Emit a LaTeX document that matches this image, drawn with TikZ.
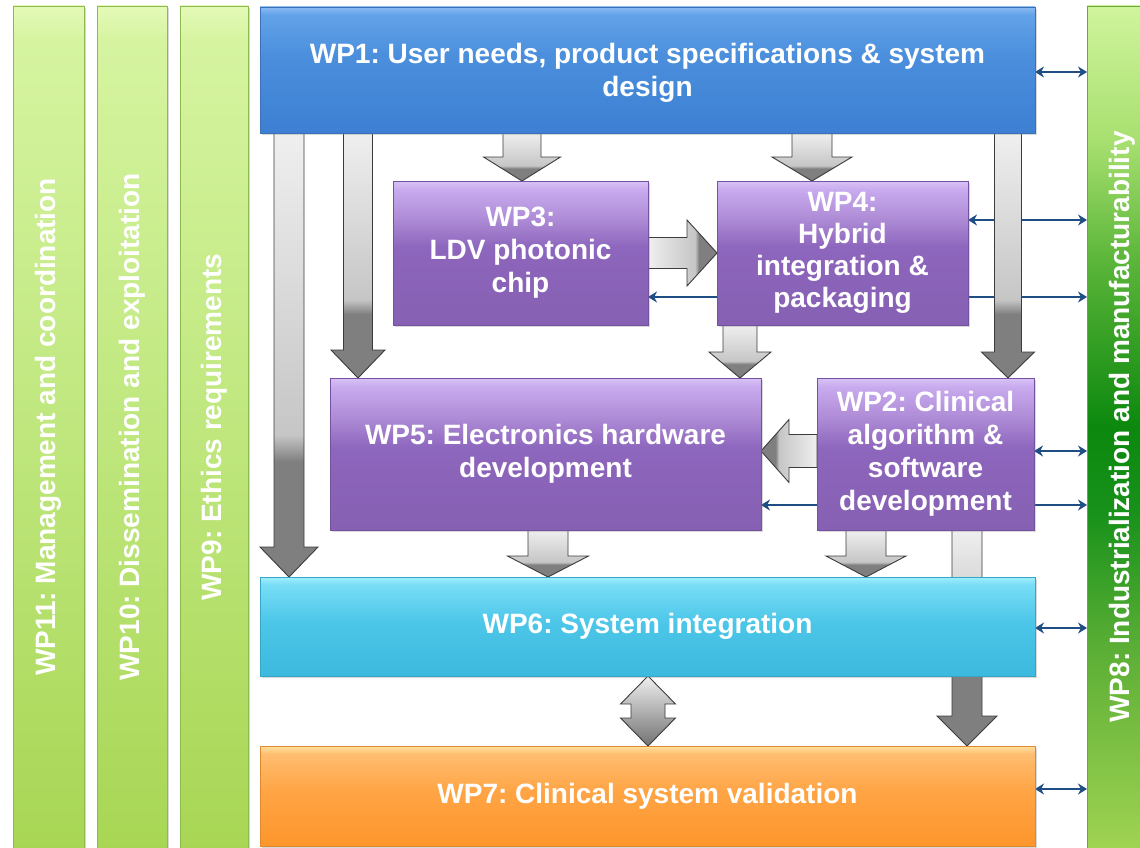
\documentclass[tikz,border=0pt]{standalone}
\usepackage{fontspec}
\usepackage{graphicx}
\setmainfont{Liberation Sans}
\frenchspacing
\usetikzlibrary{calc,arrows.meta,shadows}

\definecolor{arrowblue}{HTML}{1F4E84}
\definecolor{pu0}{HTML}{D8C2F6}\definecolor{pu1}{HTML}{C8AAEE}\definecolor{pu2}{HTML}{AE8CD6}
\definecolor{pu3}{HTML}{8D66BD}\definecolor{pu4}{HTML}{8660B2}
\definecolor{bl0}{HTML}{8CBCF2}\definecolor{bl1}{HTML}{62A2E8}\definecolor{bl2}{HTML}{4A8EDC}\definecolor{bl3}{HTML}{3D80D3}
\definecolor{cy0}{HTML}{A0EEFE}\definecolor{cy1}{HTML}{78DDF6}\definecolor{cy2}{HTML}{4CC6E8}\definecolor{cy3}{HTML}{3CB9DE}
\definecolor{or0}{HTML}{FFE0A0}\definecolor{or1}{HTML}{FFBD70}\definecolor{or2}{HTML}{FFA444}\definecolor{or3}{HTML}{FD962C}
\definecolor{gb0}{HTML}{E4FAB8}\definecolor{gb1}{HTML}{D6F4A0}\definecolor{gb2}{HTML}{BFE77E}\definecolor{gb3}{HTML}{A8D654}
\definecolor{we0}{HTML}{D0F49C}\definecolor{we1}{HTML}{A8E070}\definecolor{we2}{HTML}{5CB63A}\definecolor{we3}{HTML}{0C880E}
\definecolor{we4}{HTML}{17911A}\definecolor{we5}{HTML}{5AAE35}\definecolor{we6}{HTML}{A0D352}
\definecolor{gD}{HTML}{7F7F7F}\definecolor{gM}{HTML}{C6C6C6}\definecolor{gL}{HTML}{EFEFEF}
\definecolor{purpedge}{HTML}{7452A0}\definecolor{blueedge}{HTML}{3A72BA}
\definecolor{cyanedge}{HTML}{35A5C8}\definecolor{orangeedge}{HTML}{DD8A2E}
\definecolor{greenedge}{HTML}{8DB94E}\definecolor{wpeightedge}{HTML}{6AA83A}
\definecolor{arrowedge}{HTML}{3C3C3C}

\pgfdeclareverticalshading{purpshade}{100bp}{color(0bp)=(pu4); color(25bp)=(pu4); color(52bp)=(pu3); color(62bp)=(pu2); color(72bp)=(pu1); color(75bp)=(pu0); color(100bp)=(pu0)}
\pgfdeclareverticalshading{blushade}{100bp}{color(0bp)=(bl3); color(25bp)=(bl3); color(55bp)=(bl2); color(72bp)=(bl1); color(75bp)=(bl0); color(100bp)=(bl0)}
\pgfdeclareverticalshading{cyanshade}{100bp}{color(0bp)=(cy3); color(25bp)=(cy3); color(52bp)=(cy2); color(71bp)=(cy1); color(75bp)=(cy0); color(100bp)=(cy0)}
\pgfdeclareverticalshading{orangeshade}{100bp}{color(0bp)=(or3); color(25bp)=(or3); color(52bp)=(or2); color(71bp)=(or1); color(75bp)=(or0); color(100bp)=(or0)}
\pgfdeclareverticalshading{greenshade}{100bp}{color(0bp)=(gb3); color(25bp)=(gb3); color(50bp)=(gb2); color(73bp)=(gb1); color(75bp)=(gb0); color(100bp)=(gb0)}
\pgfdeclareverticalshading{wpeightshade}{100bp}{color(0bp)=(we6); color(25bp)=(we6); color(37bp)=(we5); color(45bp)=(we4); color(50bp)=(we3); color(60bp)=(we2); color(67bp)=(we1); color(75bp)=(we0); color(100bp)=(we0)}
\pgfdeclareverticalshading{grayarrow}{100bp}{color(0bp)=(gD); color(38bp)=(gD); color(41bp)=(gM); color(75bp)=(gL); color(100bp)=(gL)}
\pgfdeclareverticalshading{grayarrowlate}{100bp}{color(0bp)=(gD); color(49bp)=(gD); color(53bp)=(gM); color(75bp)=(gL); color(100bp)=(gL)}

\pgfdeclarelayer{lines}
\pgfdeclarelayer{arrows}
\pgfsetlayers{lines,arrows,main}

\newcommand{\wpfont}{\fontsize{28}{33}\selectfont\bfseries}

\tikzset{
  wpbox/.style={rectangle, inner sep=0pt, outer sep=0pt, align=center, text=white,
    font=\wpfont, line width=0.8pt,
    drop shadow={opacity=0.3, shadow xshift=1.5pt, shadow yshift=-2pt}},
  purplebox/.style={wpbox, shade, shading=purpshade, draw=purpedge},
  bluebox/.style={wpbox, shade, shading=blushade, draw=blueedge},
  cyanbox/.style={wpbox, shade, shading=cyanshade, draw=cyanedge},
  orangebox/.style={wpbox, shade, shading=orangeshade, draw=orangeedge},
  greenbar/.style={wpbox, shade, shading=greenshade, draw=greenedge, minimum width=70, minimum height=842},
  wpeightbar/.style={wpbox, shade, shading=wpeightshade, draw=wpeightedge, minimum width=70, minimum height=842},
  blockarrow/.style={shade, draw=arrowedge, line width=0.9pt, line join=miter},
  conn/.style={draw=arrowblue, line width=2.4pt},
  bi/.style={conn, {Stealth[length=9pt,width=11pt]}-{Stealth[length=9pt,width=11pt]}},
  one/.style={conn, -{Stealth[length=9pt,width=11pt]}}
}

% down block arrow: #1 x(px) #2 from #3 to #4 shaft half width #5 head half width #6 head length #7 shading
\newcommand{\blkdown}[7]{%
  \path[blockarrow, shading=#7] let \p1=(#2), \p2=(#3) in
    (#1pt-#4pt,\y1) -- (#1pt+#4pt,\y1) -- (#1pt+#4pt,\y2+#6pt) -- (#1pt+#5pt,\y2+#6pt)
    -- (#1pt,\y2) -- (#1pt-#5pt,\y2+#6pt) -- (#1pt-#4pt,\y2+#6pt) -- cycle;}
% right block arrow: #1 y(px)
\newcommand{\blkright}[6]{%
  \path[blockarrow, shading=grayarrow, shading angle=90] let \p1=(#2), \p2=(#3) in
    (\x1,-#1pt+#4pt) -- (\x2-#6pt,-#1pt+#4pt) -- (\x2-#6pt,-#1pt+#5pt) -- (\x2,-#1pt)
    -- (\x2-#6pt,-#1pt-#5pt) -- (\x2-#6pt,-#1pt-#4pt) -- (\x1,-#1pt-#4pt) -- cycle;}
% left block arrow
\newcommand{\blkleft}[6]{%
  \path[blockarrow, shading=grayarrow, shading angle=-90] let \p1=(#2), \p2=(#3) in
    (\x1,-#1pt+#4pt) -- (\x2+#6pt,-#1pt+#4pt) -- (\x2+#6pt,-#1pt+#5pt) -- (\x2,-#1pt)
    -- (\x2+#6pt,-#1pt-#5pt) -- (\x2+#6pt,-#1pt-#4pt) -- (\x1,-#1pt-#4pt) -- cycle;}
% double vertical block arrow
\newcommand{\blkdouble}[6]{%
  \path[blockarrow, top color=gL, bottom color=gD!90!black] let \p1=(#2), \p2=(#3) in
    (#1pt,\y1) -- (#1pt+#5pt,\y1-#6pt) -- (#1pt+#4pt,\y1-#6pt) -- (#1pt+#4pt,\y2+#6pt)
    -- (#1pt+#5pt,\y2+#6pt) -- (#1pt,\y2) -- (#1pt-#5pt,\y2+#6pt) -- (#1pt-#4pt,\y2+#6pt)
    -- (#1pt-#4pt,\y1-#6pt) -- (#1pt-#5pt,\y1-#6pt) -- cycle;}

\begin{document}
\begin{tikzpicture}[x=1pt,y=-1pt]
\useasboundingbox (0,0) rectangle (1140,848);

% side bars
\node[greenbar, minimum width=71] (wp11) at (48.5,427) {\rotatebox{90}{WP11: Management and coordination}};
\node[greenbar] (wp10) at (132,427) {\rotatebox{90}{WP10: Dissemination and exploitation}};
\node[greenbar, minimum width=68] (wp9) at (214,427) {\rotatebox{90}{WP9: Ethics requirements}};
\node[wpeightbar] (wp8) at (1122,427) {\rotatebox{90}{WP8: Industrialization and manufacturability}};

% work package boxes
\node[bluebox, minimum width=775, minimum height=126] (wp1) at (647.5,70)
  {\rule{0pt}{26.5pt}WP1: User needs, product specifications \& system\\design};
\node[purplebox, minimum width=255, minimum height=144] (wp3) at (520.5,253)
  {WP3:\\LDV photonic\\chip};
\node[purplebox, minimum width=251, minimum height=144, font=\fontsize{28}{32}\selectfont\bfseries] (wp4) at (842.5,253)
  {WP4:\\Hybrid\\integration \&\\packaging};
\node[purplebox, minimum width=431, minimum height=152] (wp5) at (545.5,454)
  {WP5: Electronics hardware\\development};
\node[purplebox, minimum width=217, minimum height=152] (wp2) at (925.5,454)
  {WP2: Clinical\\algorithm \&\\software\\development};
\node[cyanbox, minimum width=775, minimum height=99] (wp6) at (647.5,626.5)
  {WP6: System integration};
\node[orangebox, minimum width=775, minimum height=100] (wp7) at (647.5,796)
  {WP7: Clinical system validation};

% anchor points for thin connectors
\coordinate (c1) at ([yshift=-2pt]wp1.east);
\coordinate (c2) at ([yshift=33pt]wp4.east);
\coordinate (c3) at ([yshift=-44pt]wp4.east);
\coordinate (c3w) at ([yshift=-44pt]wp4.west);
\coordinate (c4) at ([yshift=3pt]wp2.east);
\coordinate (c5) at ([yshift=-51pt]wp2.east);
\coordinate (c5w) at ([yshift=-51pt]wp2.west);
\coordinate (c6) at ([yshift=-1.5pt]wp6.east);
\coordinate (c7) at ([yshift=7pt]wp7.east);

\begin{pgfonlayer}{lines}
\draw[bi] (c1) -- (c1 -| wp8.west);
\draw[bi] (c2) -- (c2 -| wp8.west);
\draw[one] (c3) -- (c3 -| wp8.west);
\draw[one] (c3w) -- (c3w -| wp3.east);
\draw[bi] (c4) -- (c4 -| wp8.west);
\draw[one] (c5) -- (c5 -| wp8.west);
\draw[one] (c5w) -- (c5w -| wp5.east);
\draw[bi] (c6) -- (c6 -| wp8.west);
\draw[bi] (c7) -- (c7 -| wp8.west);
\end{pgfonlayer}

\begin{pgfonlayer}{arrows}
\blkdown{522}{wp1.south}{wp3.north}{19}{38.5}{24}{grayarrow}
\blkdown{812}{wp1.south}{wp4.north}{20}{40}{24}{grayarrow}
\blkdown{289}{wp1.south}{wp6.north}{15}{29}{30}{grayarrow}
\blkdown{358}{wp1.south}{wp5.north}{14.5}{27}{28}{grayarrow}
\blkdown{1008}{wp1.south}{wp2.north}{13.5}{26.5}{26}{grayarrow}
\blkdown{740}{wp4.south}{wp5.north}{17}{31}{26}{grayarrow}
\blkdown{548}{wp5.south}{wp6.north}{20}{40.5}{21}{grayarrow}
\blkdown{866}{wp2.south}{wp6.north}{20}{40}{21}{grayarrow}
\blkdown{967}{wp2.south}{wp7.north}{15}{30}{30}{grayarrowlate}
\blkright{253}{wp3.east}{wp4.west}{15.5}{33}{30}
\blkleft{451}{wp2.west}{wp5.east}{16.5}{31.5}{28}
\blkdouble{648}{wp6.south}{wp7.north}{17}{27.5}{28}
\end{pgfonlayer}
\end{tikzpicture}
\end{document}
